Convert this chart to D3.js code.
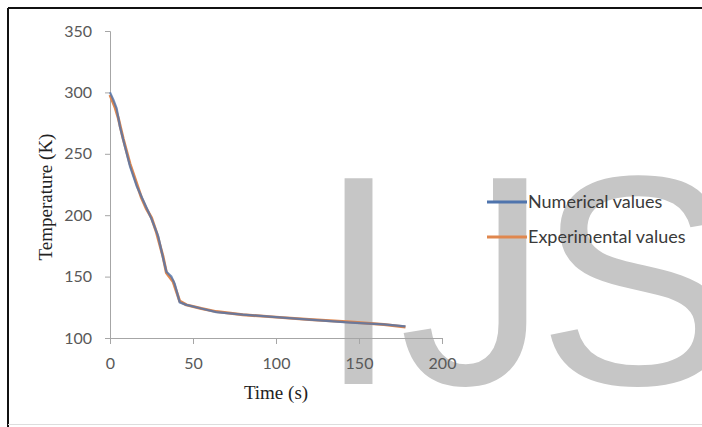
<!DOCTYPE html>
<html>
<head>
<meta charset="utf-8">
<script src="https://cdn.jsdelivr.net/npm/d3@7"></script>
<style>
  body { margin: 0; background: #fff; }
  svg { display: block; }
</style>
</head>
<body>
<div id="chart"></div>
<script>
// values
const expTime = [0, 3, 5, 8, 12, 16, 19, 22, 25, 28, 32, 34, 38, 42, 46, 55, 64, 80, 100, 120, 145, 165, 178];
const expTemp = [298, 288, 279, 262, 242, 226, 214, 205, 198, 186, 166, 153, 146, 130, 127, 124, 121.5, 119, 117, 115, 113, 111, 109];

const numTime = [0, 2, 4, 6, 9, 12, 16, 19, 22, 25, 29, 32, 34, 37, 39, 42, 46, 55, 64, 80, 100, 120, 145, 165, 178];
const numTemp = [300, 294, 287, 272, 256, 240, 224, 215, 206, 197, 183, 165, 154, 150, 144, 129, 127, 124, 121, 119, 117, 115, 112.5, 111, 109.5];

const xTicks = [0, 50, 100, 150, 200];
const yTicks = [100, 150, 200, 250, 300, 350];

const seriesNames = ["Numerical values", "Experimental values"];
const seriesColors = ["#4f74ad", "#e0874e"];

const watermark = ["I", "J", "S"];

const W = 702, H = 427;
const x = d3.scaleLinear().domain([0, 200]).range([110, 442]);
const y = d3.scaleLinear().domain([100, 350]).range([338, 31]);

const svg = d3.select("#chart").append("svg")
  .attr("width", W)
  .attr("height", H);

// frame
svg.append("line").attr("x1", 8).attr("x2", W).attr("y1", 8).attr("y2", 8)
  .attr("stroke", "#111").attr("stroke-width", 2);
svg.append("line").attr("x1", 8).attr("x2", 8).attr("y1", 8).attr("y2", H)
  .attr("stroke", "#111").attr("stroke-width", 2);
svg.append("line").attr("x1", 8).attr("x2", W).attr("y1", 424.5).attr("y2", 424.5)
  .attr("stroke", "#ddd").attr("stroke-width", 1);

// watermark, one glyph at a time
const wmX = [317, 399, 537];
svg.append("g").selectAll("text")
  .data(watermark)
  .join("text")
  .attr("x", (d, i) => wmX[i])
  .attr("y", 384)
  .attr("font-family", "'Liberation Sans', Arial, sans-serif")
  .attr("font-size", 299)
  .attr("fill", "#c6c6c6")
  .text(d => d);
// the reference J has no top flag: mask it
svg.append("rect")
  .attr("x", wmX[1] + 54).attr("y", 168)
  .attr("width", 40).attr("height", 37)
  .attr("fill", "#fff");

const tickFont = "Lato, 'Open Sans', sans-serif";

// axes
const xAxis = svg.append("g")
  .attr("transform", `translate(0,${y(100)})`)
  .call(d3.axisBottom(x).tickValues(xTicks).tickSize(6).tickPadding(14));
const yAxis = svg.append("g")
  .attr("transform", `translate(${x(0)},0)`)
  .call(d3.axisLeft(y).tickValues(yTicks).tickSize(5).tickPadding(13));

[xAxis, yAxis].forEach(g => {
  g.select(".domain").attr("stroke", "#a6a6a6");
  g.selectAll(".tick line").attr("stroke", "#a6a6a6");
  g.selectAll(".tick text")
    .attr("font-family", tickFont)
    .attr("font-size", 16)
    .attr("fill", "#595959");
});

// axis titles
svg.append("text")
  .attr("x", 276)
  .attr("y", 399)
  .attr("text-anchor", "middle")
  .attr("font-family", "'Liberation Serif', 'Times New Roman', serif")
  .attr("font-size", 19)
  .attr("fill", "#222")
  .text("Time (s)");

svg.append("text")
  .attr("transform", `translate(52,197) rotate(-90)`)
  .attr("text-anchor", "middle")
  .attr("font-family", "'Liberation Serif', 'Times New Roman', serif")
  .attr("font-size", 19)
  .attr("fill", "#222")
  .text("Temperature (K)");

// lines
const line = d3.line().x(d => x(d[0])).y(d => y(d[1]));

const expData = expTime.map((t, i) => [t, expTemp[i]]);
const numData = numTime.map((t, i) => [t, numTemp[i]]);

svg.append("path")
  .datum(expData)
  .attr("fill", "none")
  .attr("stroke", seriesColors[1])
  .attr("stroke-width", 3)
  .attr("stroke-linejoin", "round")
  .attr("d", line);

svg.append("path")
  .datum(numData)
  .attr("fill", "none")
  .attr("stroke", seriesColors[0])
  .attr("stroke-width", 2.25)
  .attr("stroke-opacity", 0.8)
  .attr("stroke-linejoin", "round")
  .attr("d", line);

// legend
const legend = svg.append("g");
seriesNames.forEach((name, i) => {
  const ly = 202 + i * 35;
  legend.append("line")
    .attr("x1", 487).attr("x2", 527)
    .attr("y1", ly).attr("y2", ly)
    .attr("stroke", seriesColors[i])
    .attr("stroke-width", 3);
  legend.append("text")
    .attr("x", 528)
    .attr("y", ly + 6)
    .attr("font-family", tickFont)
    .attr("font-size", 18)
    .attr("fill", "#3a3a3a")
    .text(name);
});
</script>
</body>
</html>
